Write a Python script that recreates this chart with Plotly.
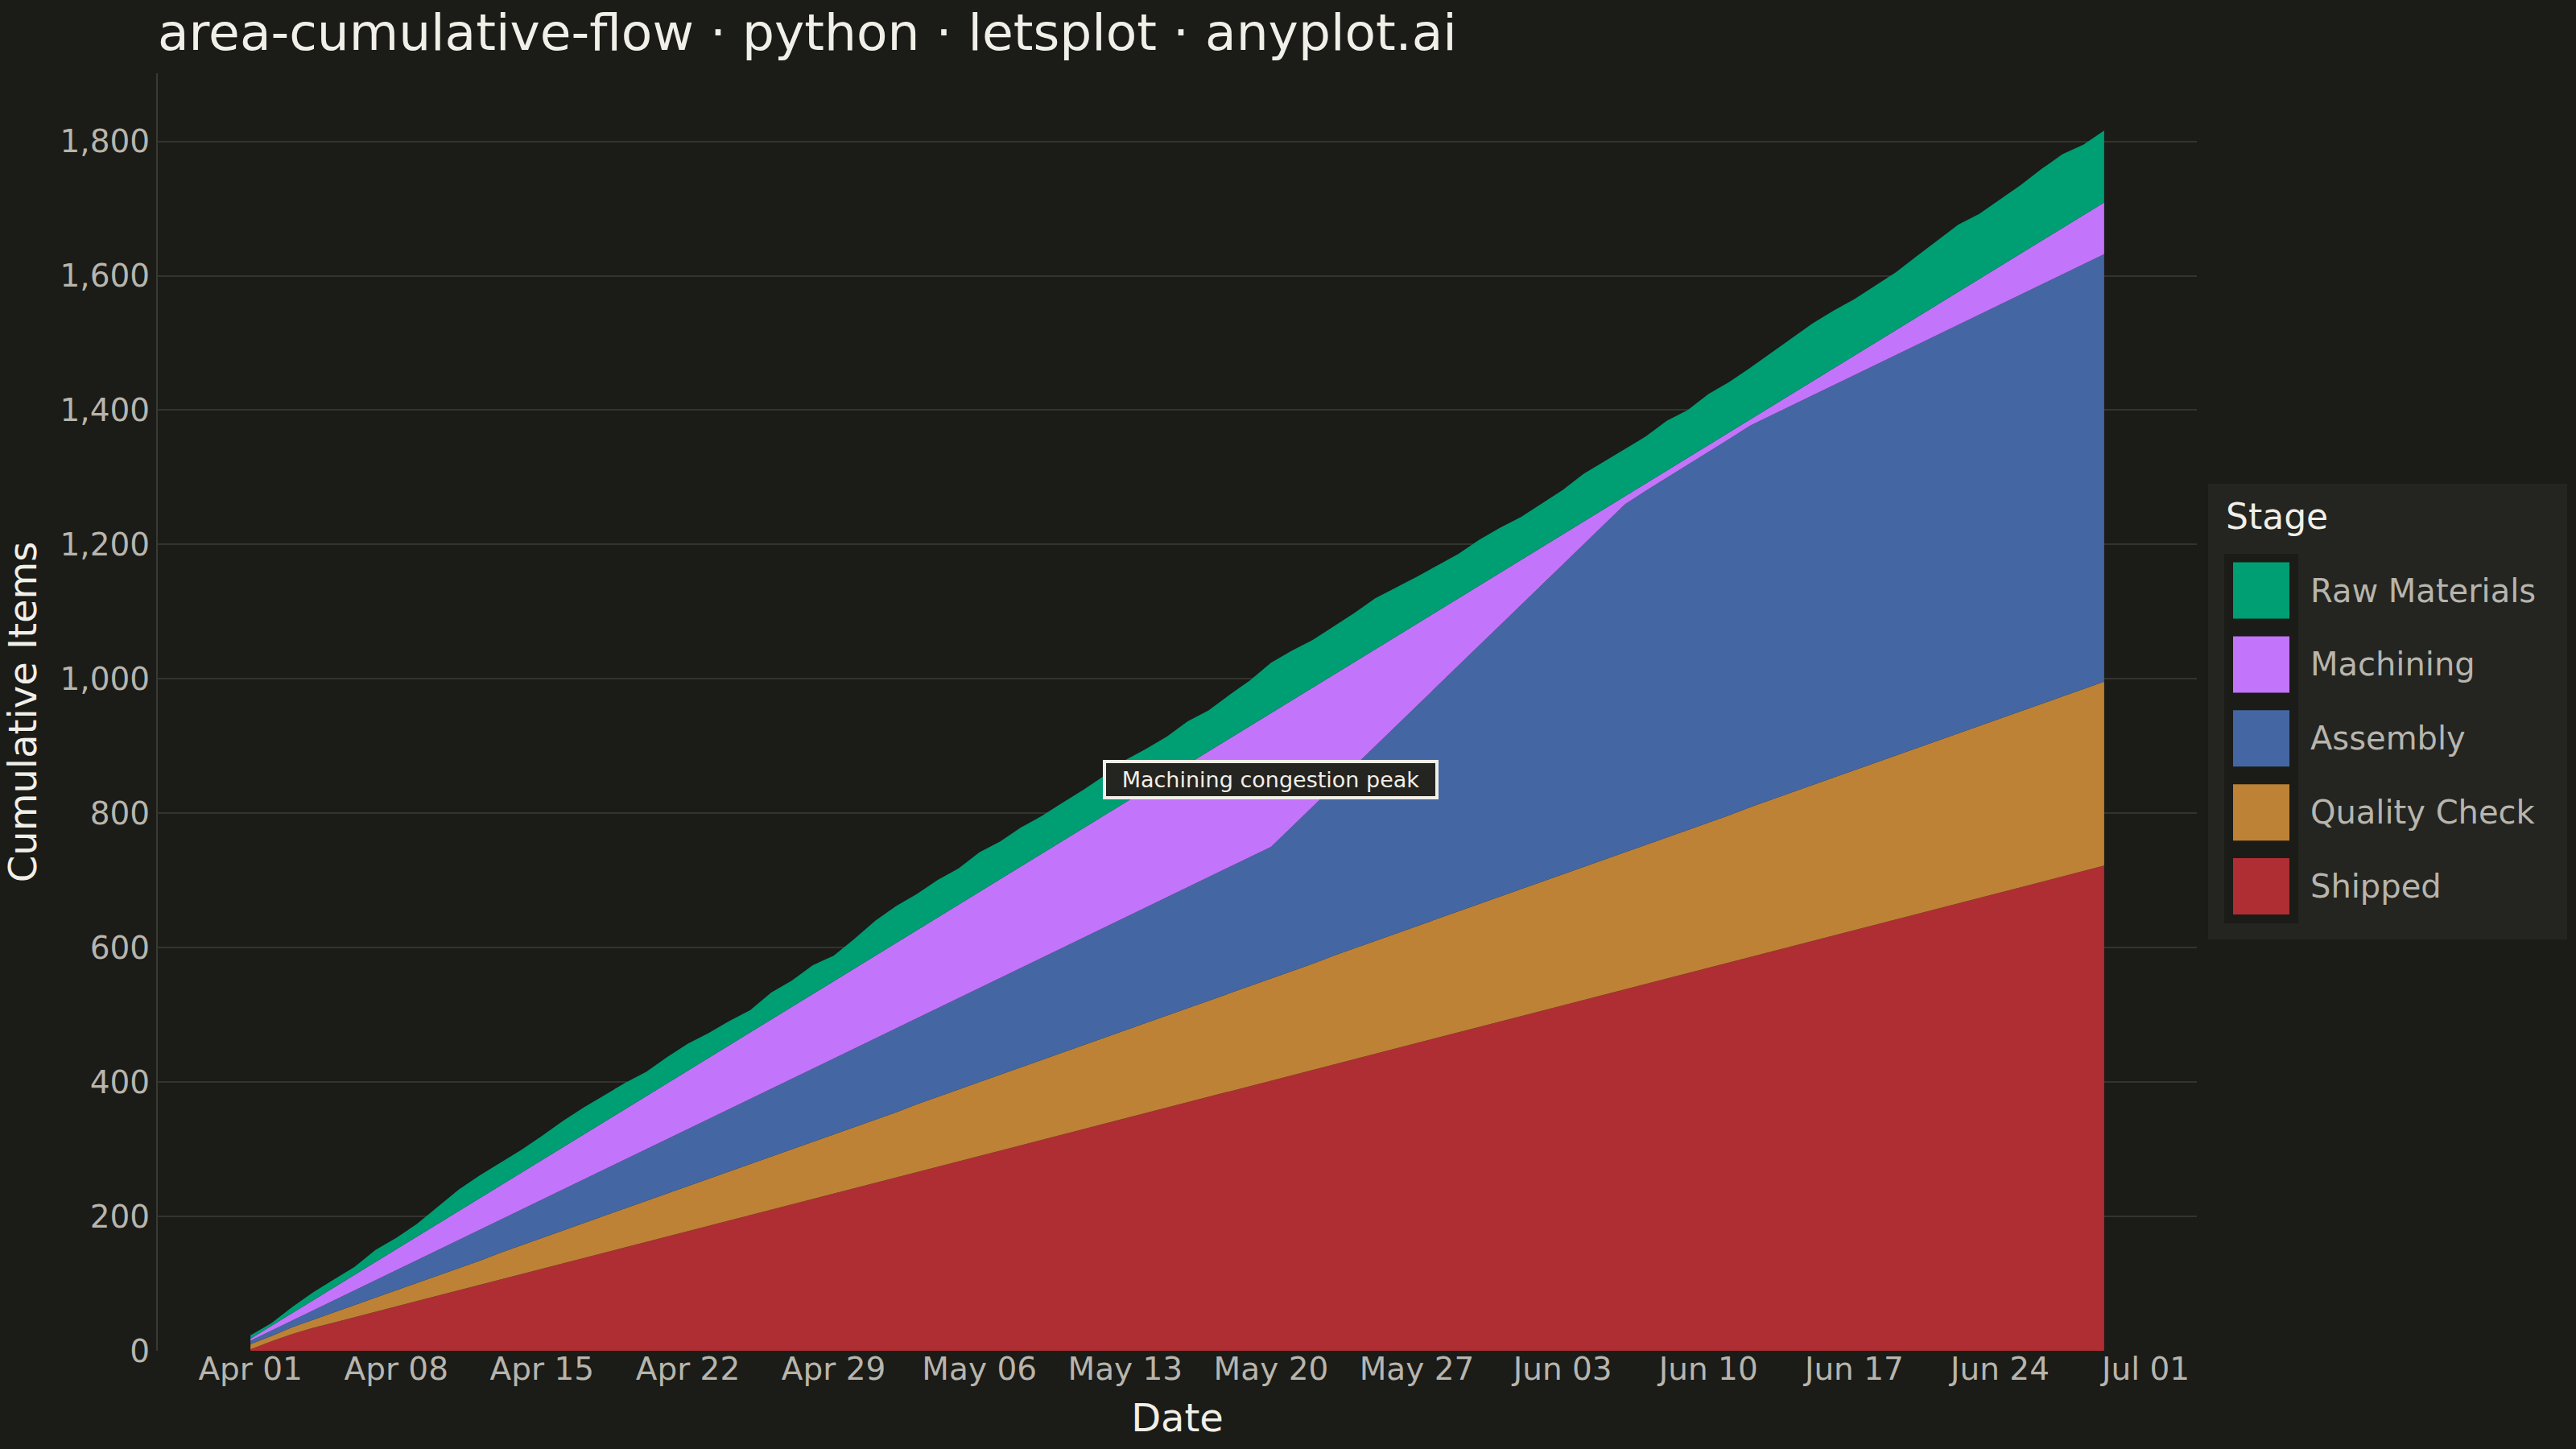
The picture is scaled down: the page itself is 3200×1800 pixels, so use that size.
import pandas as pd
import plotly.graph_objects as go

# ---------------- data ----------------
dates = pd.date_range("2024-04-01", periods=90, freq="D")

stages = ["Raw Materials", "Machining", "Assembly", "Quality Check", "Shipped"]
colors = ["#009E73", "#C274FA", "#4467A3", "#BD8235", "#AE2E33"]

shipped = [
    2, 14, 25, 34, 42, 50, 58, 66, 74, 82,
    90, 98, 106, 114, 122, 130, 138, 146, 154, 162,
    170, 178, 186, 194, 202, 210, 218, 226, 234, 242,
    250, 258, 266, 274, 282, 290, 298, 306, 314, 322,
    330, 338, 346, 354, 362, 370, 378, 386, 394, 402,
    410, 418, 426, 434, 442, 450, 458, 466, 474, 482,
    490, 498, 506, 514, 522, 530, 538, 546, 554, 562,
    570, 578, 586, 594, 602, 610, 618, 626, 634, 642,
    650, 658, 666, 674, 682, 690, 698, 706, 714, 722,
]
quality_check = [
    8, 8, 10, 12, 15, 18, 21, 24, 27, 30,
    33, 36, 40, 43, 46, 49, 52, 55, 58, 61,
    64, 67, 70, 73, 76, 79, 82, 85, 88, 91,
    94, 97, 101, 104, 107, 110, 113, 116, 119, 122,
    125, 128, 131, 134, 137, 140, 143, 146, 149, 152,
    155, 158, 162, 165, 168, 171, 174, 177, 180, 183,
    186, 189, 192, 195, 198, 201, 204, 207, 210, 213,
    216, 219, 223, 226, 229, 232, 235, 238, 241, 244,
    247, 250, 253, 256, 259, 262, 265, 268, 271, 274,
]
assembly = [
    5, 8, 10, 14, 18, 22, 26, 30, 34, 38,
    42, 46, 49, 53, 57, 61, 65, 69, 73, 77,
    81, 85, 89, 93, 97, 101, 105, 109, 113, 117,
    121, 125, 128, 132, 136, 140, 144, 148, 152, 156,
    160, 164, 168, 172, 176, 180, 184, 188, 192, 196,
    215, 234, 252, 271, 290, 309, 328, 347, 366, 385,
    404, 423, 442, 461, 480, 499, 518, 527, 535, 543,
    552, 560, 568, 572, 576, 580, 584, 588, 592, 596,
    600, 604, 608, 612, 616, 620, 624, 628, 632, 636,
]
machining = [
    3, 7, 11, 15, 19, 23, 27, 31, 35, 39,
    43, 47, 51, 55, 59, 63, 67, 71, 75, 79,
    83, 87, 91, 95, 99, 103, 107, 111, 115, 119,
    123, 127, 131, 135, 139, 143, 147, 151, 155, 159,
    163, 167, 171, 175, 179, 183, 187, 191, 195, 199,
    188, 177, 166, 155, 144, 133, 122, 111, 100, 89,
    78, 67, 56, 45, 34, 23, 12, 11, 11, 11,
    10, 10, 9, 13, 17, 21, 25, 29, 33, 37,
    41, 45, 49, 53, 57, 61, 65, 69, 73, 77,
]
raw_materials = [
    5, 4, 9, 12, 12, 12, 18, 17, 19, 26,
    32, 34, 34, 34, 36, 39, 40, 40, 39, 36,
    39, 40, 37, 36, 33, 40, 39, 43, 38, 44,
    52, 55, 54, 56, 54, 59, 56, 58, 56, 57,
    57, 59, 63, 61, 60, 64, 61, 65, 68, 75,
    74, 71, 72, 73, 76, 73, 70, 68, 66, 68,
    67, 64, 65, 66, 71, 71, 71, 70, 74, 71,
    76, 75, 77, 80, 84, 86, 86, 84, 85, 86,
    91, 95, 100, 97, 100, 102, 107, 110, 105, 107,
]

title_text = "area-cumulative-flow · python · letsplot · anyplot.ai"
note_text = "Machining congestion peak"
y_ticks = [0, 200, 400, 600, 800, 1000, 1200, 1400, 1600, 1800]

# ---------------- styling ----------------
BG = "#1B1B17"
PANEL = "#242420"
GRID = "#34342F"
INK = "#F0EFE8"
INK_SOFT = "#B7B5AD"
FONT = "DejaVu Sans"

W, H = 3200, 1800
L, R, T, B = 196, 471, 91, 122
PW, PH = W - L - R, H - T - B


def px(x):
    return (x - L) / PW


def py(y):
    return (H - B - y) / PH


series = {
    "Raw Materials": raw_materials,
    "Machining": machining,
    "Assembly": assembly,
    "Quality Check": quality_check,
    "Shipped": shipped,
}
color_of = dict(zip(stages, colors))

fig = go.Figure()
for name in reversed(stages):  # bottom layer first
    fig.add_trace(go.Scatter(
        x=dates, y=series[name], name=name, mode="lines",
        stackgroup="flow", line=dict(width=0, color=color_of[name]),
        fillcolor=color_of[name], showlegend=False,
        hovertemplate="%{x|%b %d}: %{y}<extra>" + name + "</extra>",
    ))

# annotation at the machining peak, centred in the machining band
peak = max(range(len(machining)), key=lambda i: machining[i])
below = shipped[peak] + quality_check[peak] + assembly[peak]
fig.add_annotation(
    x=dates[peak], y=below + machining[peak] / 2, text=note_text,
    showarrow=False, xanchor="center", yanchor="middle",
    font=dict(family=FONT, size=27, color=INK),
    bgcolor=PANEL, bordercolor=INK, borderwidth=4, borderpad=4,
    width=401, height=33,
)

# legend (drawn to match the reference's large square keys)
shapes = [
    dict(type="rect", xref="paper", yref="paper",
         x0=px(2743), x1=px(3189), y0=py(1167), y1=py(601),
         fillcolor=PANEL, line=dict(width=0)),
    dict(type="rect", xref="paper", yref="paper",
         x0=px(2763), x1=px(2855), y0=py(1147), y1=py(688),
         fillcolor=BG, line=dict(width=0)),
]
for i, name in enumerate(stages):
    top = 698.5 + 91.9 * i
    shapes.append(dict(type="rect", xref="paper", yref="paper",
                       x0=px(2774), x1=px(2844), y0=py(top + 70), y1=py(top),
                       fillcolor=color_of[name], line=dict(width=0)))
    fig.add_annotation(x=px(2868), y=py(top + 35), xref="paper", yref="paper",
                       text=name, showarrow=False, xanchor="left", yanchor="middle",
                       font=dict(family=FONT, size=40, color=INK_SOFT))
fig.add_annotation(x=px(2763), y=py(641), xref="paper", yref="paper",
                   text="Stage", showarrow=False, xanchor="left", yanchor="middle",
                   font=dict(family=FONT, size=44, color=INK))

span = dates[-1] - dates[0]
pad = span * 0.05
total_max = max(a + b + c + d + e for a, b, c, d, e in
                zip(shipped, quality_check, assembly, machining, raw_materials))

fig.update_layout(
    width=W, height=H,
    margin=dict(l=L, r=R, t=T, b=B, pad=0),
    paper_bgcolor=BG, plot_bgcolor=BG,
    font=dict(family=FONT, color=INK_SOFT, size=39),
    title=dict(text=title_text, x=L / W, xanchor="left", xref="container",
               y=1 - 40 / H, yanchor="middle", yref="container",
               font=dict(family=FONT, size=63, color=INK)),
    shapes=shapes,
    showlegend=False,
    xaxis=dict(
        type="date", range=[dates[0] - pad, dates[-1] + pad],
        tick0=dates[0], dtick=7 * 24 * 3600 * 1000, tickformat="%b %d",
        showgrid=False, zeroline=False, showline=False, ticks="",
        ticklabelstandoff=-4,
        tickfont=dict(family=FONT, size=39, color=INK_SOFT),
        title=dict(text="Date", font=dict(family=FONT, size=48, color=INK), standoff=22),
    ),
    yaxis=dict(
        range=[0, total_max * 1.047], tickvals=y_ticks, tickformat=",",
        showgrid=True, gridcolor=GRID, gridwidth=2, zeroline=False,
        showline=True, linecolor="#3A3A35", linewidth=2, ticks="",
        ticklabelstandoff=0,
        tickfont=dict(family=FONT, size=39, color=INK_SOFT),
        title=dict(text="Cumulative Items", font=dict(family=FONT, size=48, color=INK), standoff=22),
    ),
)

fig.write_html("out.html", config={"displayModeBar": False})

# remove the browser's default page margin so the figure sits at (0, 0)
with open("out.html", encoding="utf-8") as fh:
    page = fh.read()
page = page.replace(
    "<head>",
    "<head><style>html,body{margin:0;padding:0;background:%s;}</style>" % BG,
    1,
)
with open("out.html", "w", encoding="utf-8") as fh:
    fh.write(page)
